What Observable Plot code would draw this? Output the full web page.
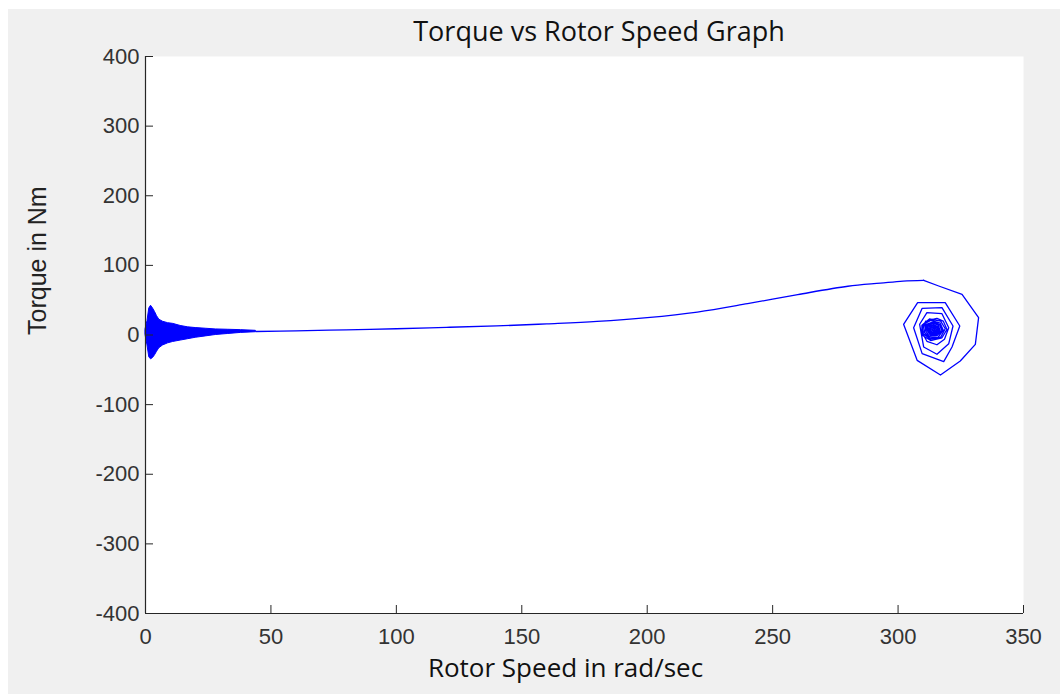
<!DOCTYPE html>
<html><head><meta charset="utf-8">
<script src="https://cdn.jsdelivr.net/npm/d3@7"></script>
<script src="https://cdn.jsdelivr.net/npm/@observablehq/plot@0.6"></script>
<style>
html,body{margin:0;padding:0;background:#fff;width:1060px;height:694px;overflow:hidden}
#panel{position:absolute;left:8px;top:9px;width:1052px;height:685px;background:#f0f0f0}
#title{position:absolute;left:599px;top:17px;transform:translateX(-50%);font-family:"Open Sans",sans-serif;font-size:27px;line-height:27px;color:#111;white-space:nowrap;z-index:2}
#chart{position:absolute;left:0;top:30px}
</style></head>
<body>
<div id="panel"></div>
<div id="title">Torque vs Rotor Speed Graph</div>
<div id="chart"></div>
<script>
const titleText = "Torque vs Rotor Speed Graph";
const xLabel = "Rotor Speed in rad/sec";
const yLabel = "Torque in Nm";
const xDomain = [0, 350];
const yDomain = [-400, 400];
const xTicks = [0, 50, 100, 150, 200, 250, 300, 350];
const yTicks = [-400, -300, -200, -100, 0, 100, 200, 300, 400];

// start-up oscillation envelope (dense blob near zero speed)
const envSpeed = [0, 0.8, 1.5, 2.2, 3, 3.8, 4.6, 5.5, 7, 9, 11, 14, 17, 20, 24, 28, 33, 38, 44];
const envUpper = [8, 20, 38, 42, 38, 33, 27, 22, 19, 17, 16, 13, 11, 10, 9, 8, 7.5, 7, 6];
const envLower = [0, -15, -32, -35, -33, -29, -24, -19, -15, -12, -10, -8, -6, -4, -2, 0, 1.5, 3, 4];

// smooth acceleration part of the trajectory
const curveSpeed = [44, 60, 80, 100, 120, 140, 160, 180, 200, 220, 240, 260, 280, 293, 302, 310.2];
const curveTorque = [5, 6, 7.5, 9, 11, 13, 16, 19.5, 25, 33, 45, 58, 70, 74.5, 77.5, 78.6];

// settling spiral around the operating point
const spiralSpeed = [310.2, 316.2, 325.5, 332.1, 330.8, 324.8, 316.9, 307.6, 302.2, 307.8, 318.8, 324.6, 321.5, 318.2, 309.6, 306.2, 309.6, 317.5, 321.9, 320.2, 315.5, 310.2, 308.6, 311.5, 317.5, 320.2,
  318.5, 315.5, 311.5, 309.5, 311, 315.5,
  318, 319.5, 317.5, 313, 309.5, 309.5, 312.5,
  317, 318.8, 317, 313, 310, 310, 313,
  316.8, 318, 316, 312.5, 310.5, 311, 314,
  316.5, 317.5, 315.5, 312.5, 311, 311.5, 314,
  316, 316.8, 315, 312.8, 311.5, 312, 314,
  315.8, 316.3, 315, 313, 312, 312.5, 314,
  315.5, 315.8, 314.8, 313.2, 312.5, 313, 314,
  315, 315.3, 314.5, 313.5, 313, 313.3, 314,
  314.6, 314.7, 314.2, 313.7, 313.6, 314, 314.2];
const spiralTorque = [78.6, 70.4, 58.5, 24.9, -13.4, -37.4, -57.5, -36.4, 15.4, 46.4, 46.4, 12.9, -17.2, -38.3, -26.8, 10.5, 38.3, 39.3, 12.9, -12.5, -27.7, -17.2, 15.4, 32, 30.6, 10.5,
  -6, -14, -9, 4, 20, 24,
  20, 8, -4, -8, 0, 14, 23,
  20, 9, -3, -6, 2, 15, 21,
  17, 7, -3, -4, 4, 15, 19,
  15, 6, -1, -2, 6, 14, 17,
  14, 6, 0, 0, 7, 13, 15,
  12, 7, 2, 1.5, 7, 12, 14,
  11, 7, 3, 3, 7, 11, 12,
  10, 7, 4.5, 4.5, 7, 10, 10.5,
  9, 7, 6, 6.5, 8, 9, 8];

const env = envSpeed.map((s, i) => ({s, hi: envUpper[i], lo: envLower[i]}));
const curve = curveSpeed.map((s, i) => ({s, t: curveTorque[i]}));
const spiral = spiralSpeed.map((s, i) => ({s, t: spiralTorque[i]}));

const W = 1060, H = 664, mL = 145, mR = 37, mT = 26, mB = 81;
const frameW = W - mL - mR, frameH = H - mT - mB;
const axisColor = "#262626";
const blue = "#0000ff";

const chart = Plot.plot({
  width: W, height: H,
  marginLeft: mL, marginRight: mR, marginTop: mT, marginBottom: mB,
  style: {background: "transparent", fontFamily: "'Liberation Sans', Arial, sans-serif", fontSize: "22px", color: "#333"},
  x: {domain: xDomain, label: null},
  y: {domain: yDomain, label: null},
  marks: [
    Plot.frame({fill: "white", stroke: null}),
    Plot.areaY(env, {x: "s", y1: "lo", y2: "hi", fill: blue, stroke: blue, strokeWidth: 1}),
    Plot.line(curve, {x: "s", y: "t", stroke: blue, strokeWidth: 1.3, curve: "catmull-rom"}),
    Plot.line(spiral, {x: "s", y: "t", stroke: blue, strokeWidth: 1.3, curve: "linear"}),
    Plot.ruleX([xDomain[0]], {stroke: axisColor, strokeWidth: 1.2}),
    Plot.ruleY([yDomain[0]], {stroke: axisColor, strokeWidth: 1.2}),
    Plot.tickX(xTicks, {x: d => d, insetTop: frameH - 8, stroke: axisColor}),
    Plot.tickY(yTicks, {y: d => d, insetRight: frameW - 8, stroke: axisColor}),
    Plot.axisX(xTicks, {anchor: "bottom", tickSize: 0, tickPadding: 15, tickFormat: d => String(d), label: null, fill: "#333"}),
    Plot.axisY(yTicks, {anchor: "left", tickSize: 0, tickPadding: 6, tickFormat: d => String(d), label: null, fill: "#333"}),
    Plot.text([xLabel], {frameAnchor: "bottom", text: d => d, lineAnchor: "top", dy: 45, dx: -19, fontSize: 26, fontFamily: "'Open Sans', sans-serif", fill: "#111"}),
    Plot.text([yLabel], {frameAnchor: "left", text: d => d, rotate: -90, dx: -108, fontSize: 25, fill: "#222"})
  ]
});
document.getElementById("chart").appendChild(chart);
</script>
</body></html>
